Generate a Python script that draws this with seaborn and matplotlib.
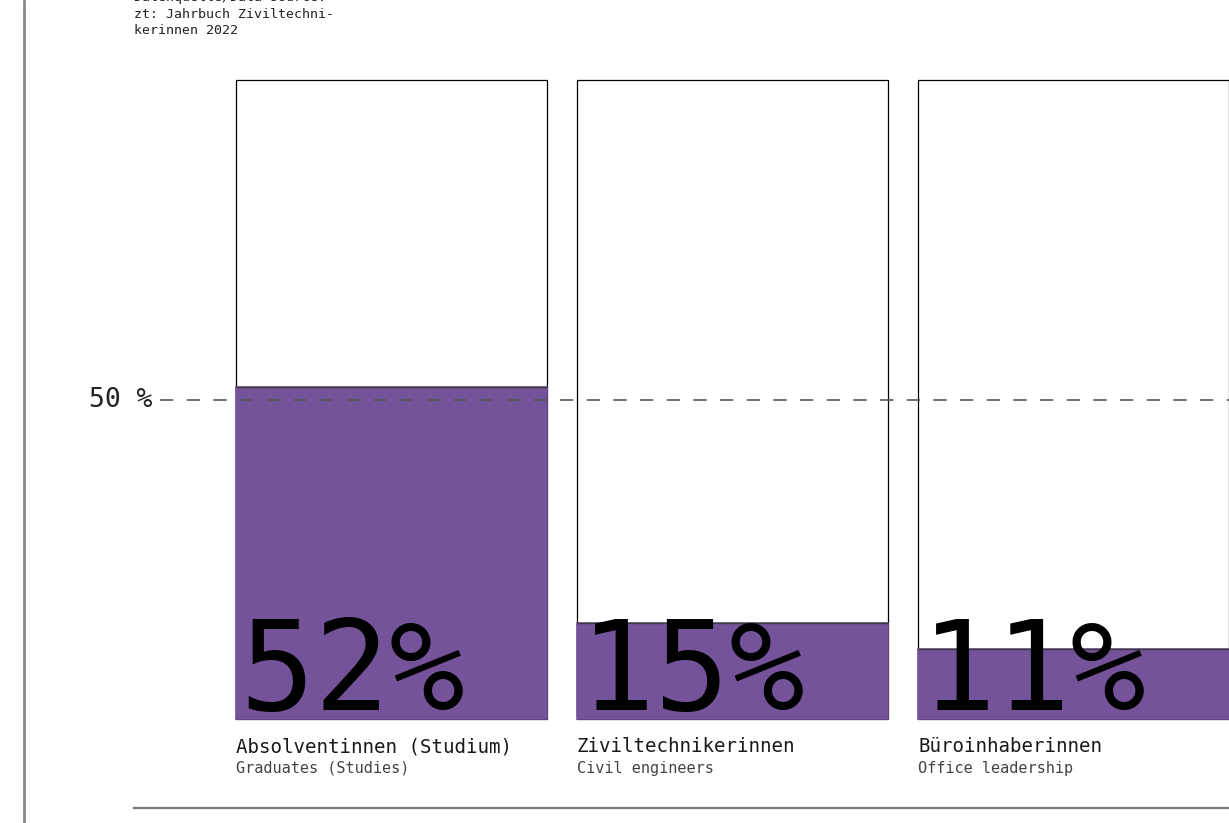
import matplotlib
matplotlib.use("Agg")
import matplotlib.pyplot as plt
import seaborn as sns
import numpy as np
from matplotlib.lines import Line2D

# ---- data ----
categories_de = ["Absolventinnen (Studium)", "Ziviltechnikerinnen", "Büroinhaberinnen"]
categories_en = ["Graduates (Studies)", "Civil engineers", "Office leadership"]
values = [52, 15, 11]
full = [100, 100, 100]
reference_line = 50
source_lines = ["Datenquelle/Data source:", "zt: Jahrbuch Ziviltechni-", "kerinnen 2022"]

PURPLE = "#75539b"
MONO = ["DejaVu Sans Mono"]

sns.set_style("white")
plt.rcParams["font.family"] = MONO

W, H = 1229, 823
fig = plt.figure(figsize=(W / 100, H / 100), dpi=100)

# axes geometry in pixels
ax_left, ax_right = 134, 1229
ax_top, ax_bottom = 70, 808
y0_px, y100_px = 719, 80
ppu = (y0_px - y100_px) / 100.0
ax = fig.add_axes([ax_left / W, (H - ax_bottom) / H, (ax_right - ax_left) / W, (ax_bottom - ax_top) / H])

bar_pitch = 341.0
c0 = 391.5
bw = 311 / bar_pitch

sns.barplot(x=categories_de, y=full, color="white", edgecolor="black", linewidth=0.9,
            width=bw, ax=ax, zorder=1, saturation=1)
sns.barplot(x=categories_de, y=values, color=PURPLE, edgecolor=PURPLE, linewidth=1.2,
            width=bw, ax=ax, zorder=2, saturation=1)

xs = np.arange(len(values))
ax.hlines(values, xs - bw / 2, xs + bw / 2, colors="#3a3a3a", linewidth=1.0, zorder=3)

ax.set_xlim((ax_left - c0) / bar_pitch, (ax_right - c0) / bar_pitch)
ax.set_ylim(-(ax_bottom - y0_px) / ppu, 100 + (y100_px - ax_top) / ppu)

# dashed 50% line
ax.plot([(160 - c0) / bar_pitch, (ax_right - c0) / bar_pitch], [reference_line] * 2,
        color="#555555", linewidth=1.2, dashes=(8, 8), zorder=4, clip_on=False)
ax.text((153 - c0) / bar_pitch, reference_line, f"{reference_line} %", ha="right", va="center",
        fontsize=19, color="#222222", family=MONO)

for i, (v, de, en) in enumerate(zip(values, categories_de, categories_en)):
    left = i - bw / 2
    ax.text(left + 3 / bar_pitch, (y0_px - 710) / ppu, f"{v}%", ha="left", va="baseline",
            fontsize=90, color="black", zorder=5, family=MONO)
    ax.text(left, (y0_px - 747) / ppu, de, ha="left", va="center", fontsize=13.8,
            color="#1a1a1a", family=MONO)
    ax.text(left, (y0_px - 768) / ppu, en, ha="left", va="center", fontsize=11,
            color="#444444", family=MONO)

ax.set_xticks([])
ax.set_yticks([])
ax.set_xlabel("")
ax.set_ylabel("")
for s in ["top", "left", "right"]:
    ax.spines[s].set_visible(False)
ax.spines["bottom"].set_color("#777777")
ax.spines["bottom"].set_linewidth(1.6)
ax.patch.set_alpha(0)

# source text (first line cut at the top edge, as in the reference)
for j, (line, ypx) in enumerate(zip(source_lines, [-2, 14, 30])):
    fig.text(134 / W, (H - ypx) / H, line, ha="left", va="center", fontsize=9.5,
             color="#222222", family=MONO)

# left vertical rule
fig.add_artist(Line2D([24 / W, 24 / W], [0, 1], color="#888888", linewidth=2,
                      transform=fig.transFigure))

fig.savefig("out.png", dpi=100)
